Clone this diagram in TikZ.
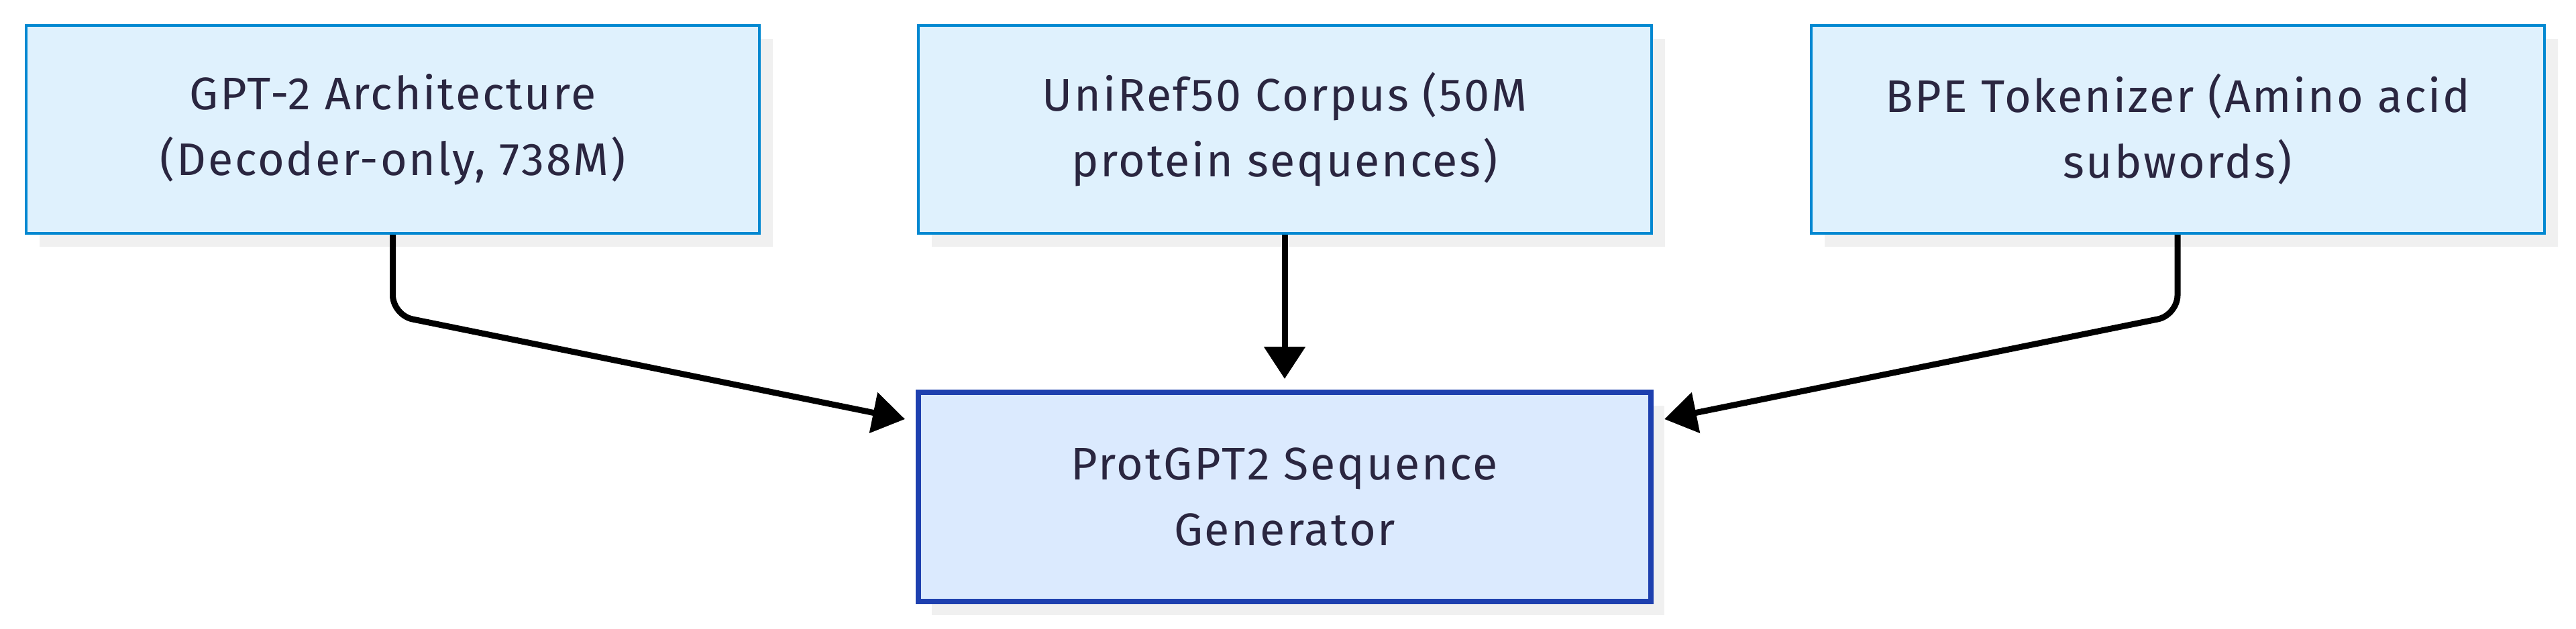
\documentclass[tikz,border=0pt]{standalone}
\usepackage{xcolor}
\usepackage{fontspec}
\setmainfont[LetterSpace=4]{Fira Sans}
\usepackage{tikz}
\usetikzlibrary{calc,arrows.meta,shadows}
\definecolor{inblue}{RGB}{223, 241, 253}
\definecolor{inedge}{RGB}{2, 136, 209}
\definecolor{genblue}{RGB}{219, 234, 254}
\definecolor{genedge}{RGB}{30, 64, 175}
\definecolor{boxtext}{RGB}{42, 38, 64}
\definecolor{boxshade}{RGB}{240, 240, 240}

\begin{document}
\begin{tikzpicture}[
  inbox/.style={draw=inedge, fill=inblue, line width=0.04cm,
    minimum width=10.93cm, minimum height=3.10cm, align=center,
    text=boxtext, font=\fontsize{19.4}{27.9}\selectfont,
    drop shadow={shadow xshift=0.2cm, shadow yshift=-0.2cm, fill=boxshade, opacity=1}},
  genbox/.style={inbox, draw=genedge, fill=genblue, line width=0.08cm,
    minimum width=10.92cm, minimum height=3.12cm},
  flow/.style={draw=black, line width=0.09cm, rounded corners=0.3cm,
    -{Triangle[length=0.48cm, width=0.6cm]}}
]
\useasboundingbox (0,0) rectangle (38.4,-9.37);
% Inputs
\node[inbox] (arch) at (5.855,-1.93) {GPT-2 Architecture\\(Decoder-only, 738M)};
\node[inbox] (corpus) at (19.15,-1.93) {UniRef50 Corpus (50M\\protein sequences)};
\node[inbox] (bpe) at (32.46,-1.93) {BPE Tokenizer (Amino acid\\subwords)};
% Model
\node[genbox] (gen) at (19.15,-7.41) {ProtGPT2 Sequence\\Generator};

\draw[flow] (arch.south) -- ++(0,-1.2) -- ($(gen.north west)+(-0.16,-0.44)$);
\draw[flow] (corpus.south) -- ($(gen.north)+(0,0.16)$);
\draw[flow] (bpe.south) -- ++(0,-1.2) -- ($(gen.north east)+(0.16,-0.44)$);
\end{tikzpicture}
\end{document}
